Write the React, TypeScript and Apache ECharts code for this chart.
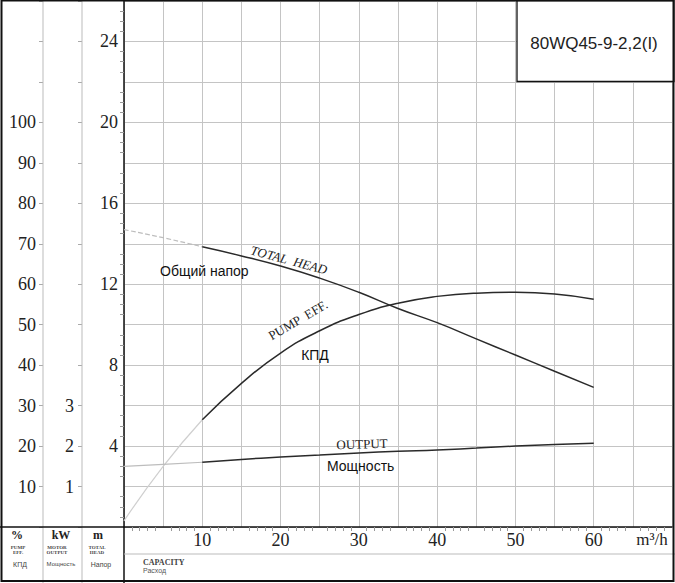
import React, { useEffect, useRef } from "react";
import * as echarts from "echarts";

// Flow, m³/h
const flow = [0, 5, 10, 15, 20, 25, 30, 35, 40, 45, 50, 55, 60];
// Total head, m
const head = [14.7, 14.3, 13.85, 13.4, 12.9, 12.3, 11.6, 10.8, 10.1, 9.3, 8.5, 7.7, 6.9];
// Pump efficiency, %
const eff = [1.5, 15, 26.5, 35.5, 43, 48.5, 52.5, 55.3, 57, 57.8, 58, 57.6, 56.3];
// Motor output, kW
const power = [1.5, 1.55, 1.6, 1.67, 1.73, 1.78, 1.83, 1.87, 1.9, 1.95, 2.0, 2.04, 2.07];

const headTicks = [4, 8, 12, 16, 20, 24];
const effTicks = [10, 20, 30, 40, 50, 60, 70, 80, 90, 100];
const kwTicks = [1, 2, 3];
const flowTicks = [10, 20, 30, 40, 50, 60];

const dashedUntil = 10;

const title = "80WQ45-9-2,2(I)";

function pairs(ys: number[], from: number, to: number) {
  const out: number[][] = [];
  flow.forEach((x, i) => {
    if (x >= from && x <= to) out.push([x, ys[i]]);
  });
  return out;
}

const SERIF = "'Liberation Serif', 'DejaVu Serif', serif";
const SANS = "'Liberation Sans', Arial, sans-serif";
const GRID = "#c4c4c4";
const INK = "#2a2a2a";

export default function App() {
  const ref = useRef<HTMLDivElement>(null);
  useEffect(() => {
    if (!ref.current) return;
    const chart = echarts.init(ref.current, undefined, { renderer: "svg" });
    const W = 675;
    const H = 583;
    const L = 124;
    const T = 1;
    const B = 527;

    const lineSeries = (
      name: string,
      yAxisIndex: number,
      data: number[][],
      light: boolean
    ) => ({
      name,
      type: "line",
      xAxisIndex: 0,
      yAxisIndex,
      data,
      smooth: 0.5,
      showSymbol: false,
      silent: true,
      z: light ? 3 : 4,
      lineStyle: light
        ? { color: yAxisIndex === 1 ? "#cfcfcf" : "#bdbdbd", width: 1.2, type: yAxisIndex === 0 ? "dashed" : "solid" }
        : { color: INK, width: 1.5 },
    });

    chart.setOption({
      animation: false,
      backgroundColor: "#ffffff",
      grid: { left: L, right: 1, top: T, bottom: H - B, containLabel: false },
      xAxis: {
        type: "value",
        min: 0,
        max: 70,
        interval: 5,
        axisLine: { show: true, lineStyle: { color: "#111", width: 1.5 } },
        axisTick: { show: false },
        minorTick: { show: true, splitNumber: 5, length: 4, lineStyle: { color: "#999" } },
        splitLine: { show: true, lineStyle: { color: GRID, width: 1 } },
        axisLabel: {
          margin: 4,
          fontFamily: SERIF,
          fontSize: 18,
          color: "#222",
          formatter: (v: number) => (flowTicks.includes(v) ? String(v) : ""),
        },
      },
      yAxis: [
        {
          type: "value",
          min: 0,
          max: 26,
          interval: 2,
          position: "left",
          axisLine: { show: true, lineStyle: { color: "#111", width: 1.5 } },
          axisTick: { show: false },
          minorTick: { show: true, splitNumber: 4, length: 4, lineStyle: { color: "#999" } },
          splitLine: { show: true, lineStyle: { color: GRID, width: 1 } },
          axisLabel: {
            inside: false,
            margin: 6,
            fontFamily: SERIF,
            fontSize: 18,
            color: "#222",
            formatter: (v: number) => (headTicks.includes(v) ? String(v) : ""),
          },
        },
        {
          type: "value",
          min: 0,
          max: 130,
          interval: 10,
          position: "left",
          offset: L - 43,
          axisLine: { show: false },
          axisTick: { show: true, length: 4, inside: false, lineStyle: { color: "#aaa" } },
          splitLine: { show: false },
          axisLabel: {
            margin: 7,
            fontFamily: SERIF,
            fontSize: 18,
            color: "#222",
            formatter: (v: number) => (effTicks.includes(v) ? String(v) : ""),
          },
        },
        {
          type: "value",
          min: 0,
          max: 13,
          interval: 1,
          position: "left",
          offset: L - 82,
          axisLine: { show: false },
          axisTick: { show: true, length: 4, inside: false, lineStyle: { color: "#aaa" } },
          splitLine: { show: false },
          axisLabel: {
            margin: 8,
            fontFamily: SERIF,
            fontSize: 18,
            color: "#222",
            formatter: (v: number) => (kwTicks.includes(v) ? String(v) : ""),
          },
        },
      ],
      series: [
        lineSeries("head-low", 0, pairs(head, 0, dashedUntil), true),
        lineSeries("head", 0, pairs(head, dashedUntil, 60), false),
        lineSeries("eff-low", 1, pairs(eff, 0, dashedUntil), true),
        lineSeries("eff", 1, pairs(eff, dashedUntil, 60), false),
        lineSeries("power-low", 2, pairs(power, 0, dashedUntil), true),
        lineSeries("power", 2, pairs(power, dashedUntil, 60), false),
      ],
      graphic: [
        // column lines on the left
        { type: "line", shape: { x1: 43, y1: 0, x2: 43, y2: H }, style: { stroke: "#bbb", lineWidth: 1 }, z: 1 },
        { type: "line", shape: { x1: 82, y1: 0, x2: 82, y2: H }, style: { stroke: "#bbb", lineWidth: 1 }, z: 1 },
        { type: "line", shape: { x1: L, y1: B, x2: L, y2: H }, style: { stroke: "#111", lineWidth: 1.5 }, z: 5 },
        { type: "line", shape: { x1: 0, y1: B, x2: L, y2: B }, style: { stroke: "#111", lineWidth: 1.5 }, z: 5 },
        { type: "line", shape: { x1: L, y1: 554, x2: W, y2: 554 }, style: { stroke: "#bbb", lineWidth: 1.2 }, z: 5 },
        // outer frame
        { type: "rect", shape: { x: 1.5, y: 0.5, width: W - 3, height: H - 2.5 }, style: { fill: "none", stroke: "#111", lineWidth: 2 }, z: 10 },
        // title box
        { type: "rect", shape: { x: 517, y: 0.5, width: 157, height: 81 }, style: { fill: "#fff", stroke: "#111", lineWidth: 1.3 }, z: 8 },
        { type: "text", x: 594, y: 43, z: 9, style: { text: title, font: `17px ${SANS}`, fill: "#222", align: "center", verticalAlign: "middle" } },
        // unit headers
        { type: "text", x: 17, y: 535, z: 9, style: { text: "%", font: `bold 12px ${SERIF}`, fill: "#222", align: "center", verticalAlign: "middle" } },
        { type: "text", x: 61, y: 535, z: 9, style: { text: "kW", font: `bold 12px ${SERIF}`, fill: "#222", align: "center", verticalAlign: "middle" } },
        { type: "text", x: 98, y: 535, z: 9, style: { text: "m", font: `bold 12px ${SERIF}`, fill: "#222", align: "center", verticalAlign: "middle" } },
        { type: "text", x: 18, y: 550, z: 9, style: { text: "PUMP\nEFF.", font: `bold 5px ${SERIF}`, lineHeight: 5, fill: "#444", align: "center", verticalAlign: "middle" } },
        { type: "text", x: 57, y: 550, z: 9, style: { text: "MOTOR\nOUTPUT", font: `bold 5px ${SERIF}`, lineHeight: 5, fill: "#444", align: "center", verticalAlign: "middle" } },
        { type: "text", x: 97, y: 550, z: 9, style: { text: "TOTAL\nHEAD", font: `bold 5px ${SERIF}`, lineHeight: 5, fill: "#444", align: "center", verticalAlign: "middle" } },
        { type: "text", x: 20, y: 564, z: 9, style: { text: "КПД", font: `7px ${SANS}`, fill: "#444", align: "center", verticalAlign: "middle" } },
        { type: "text", x: 61, y: 564, z: 9, style: { text: "Мощность", font: `6px ${SANS}`, fill: "#444", align: "center", verticalAlign: "middle" } },
        { type: "text", x: 101, y: 564, z: 9, style: { text: "Напор", font: `7px ${SANS}`, fill: "#444", align: "center", verticalAlign: "middle" } },
        { type: "text", x: 143, y: 562, z: 9, style: { text: "CAPACITY", font: `bold 8px ${SERIF}`, fill: "#444", align: "left", verticalAlign: "middle" } },
        { type: "text", x: 143, y: 570, z: 9, style: { text: "Расход", font: `7px ${SANS}`, fill: "#555", align: "left", verticalAlign: "middle" } },
        { type: "text", x: 652, y: 539, z: 9, style: { text: "m³/h", font: `17px ${SERIF}`, fill: "#222", align: "center", verticalAlign: "middle" } },
        // curve labels
        { type: "text", x: 289, y: 260, rotation: -0.26, z: 9, style: { text: "TOTAL  HEAD", font: `italic 13px ${SERIF}`, fill: "#222", align: "center", verticalAlign: "middle" } },
        { type: "text", x: 160, y: 271, z: 9, style: { text: "Общий напор", font: `14px ${SANS}`, fill: "#111", align: "left", verticalAlign: "middle" } },
        { type: "text", x: 298, y: 320, rotation: 0.53, z: 9, style: { text: "PUMP  EFF.", font: `13px ${SERIF}`, fill: "#222", align: "center", verticalAlign: "middle" } },
        { type: "text", x: 315, y: 355, z: 9, style: { text: "КПД", font: `14px ${SANS}`, fill: "#111", align: "center", verticalAlign: "middle" } },
        { type: "text", x: 362, y: 444, rotation: 0.03, z: 9, style: { text: "OUTPUT", font: `13px ${SERIF}`, fill: "#222", align: "center", verticalAlign: "middle" } },
        { type: "text", x: 327, y: 466, z: 9, style: { text: "Мощность", font: `14px ${SANS}`, fill: "#111", align: "left", verticalAlign: "middle" } },
      ],
    });
    return () => chart.dispose();
  }, []);
  return (
    <div
      ref={ref}
      style={{ position: "fixed", left: 0, top: 0, width: 675, height: 583, background: "#fff" }}
    />
  );
}
